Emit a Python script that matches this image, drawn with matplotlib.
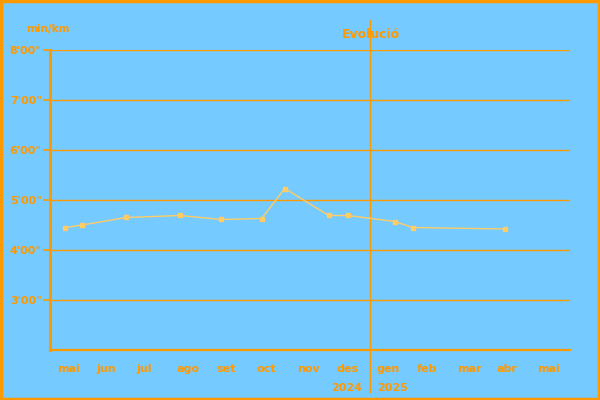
import matplotlib
matplotlib.use("Agg")
import matplotlib.pyplot as plt
import matplotlib.transforms as mtransforms
from matplotlib.patches import Rectangle
import calendar

# ritme mitjà (min/km) per data de cursa
dates = ["2024-05-13", "2024-05-26", "2024-06-28", "2024-08-09", "2024-09-09",
         "2024-10-10", "2024-10-28", "2024-11-30", "2024-12-15", "2025-01-20",
         "2025-02-03", "2025-04-12"]
pace = [4.45, 4.50, 4.65, 4.69, 4.61, 4.63, 5.23, 4.69, 4.69, 4.57, 4.45, 4.42]

month_labels = ["mai", "jun", "jul", "ago", "set", "oct", "nov", "des",
                "gen", "feb", "mar", "abr", "mai"]
y_ticks = [3, 4, 5, 6, 7, 8]

bg = "#75caff"
orange = "#ff9900"
line_col = "#ffcc66"


# cada mes ocupa la mateixa amplada a l'eix (maig 2024 = 0)
def month_pos(s):
    y, m, d = [int(p) for p in s.split("-")]
    idx = (y - 2024) * 12 + (m - 5)
    return idx + (d - 1) / calendar.monthrange(y, m)[1]


fig = plt.figure(figsize=(6, 4), dpi=100, facecolor=bg)
ax = fig.add_axes([50 / 600, 50 / 400, 520 / 600, 300 / 400])
ax.set_facecolor(bg)

x = [month_pos(d) for d in dates]
ax.plot(x, pace, color=line_col, lw=1, marker="s", ms=3.5, mec=line_col, mfc=line_col, zorder=3)

ax.set_xlim(0, len(month_labels))
ax.set_ylim(2, 8)

for sp in ["top", "right"]:
    ax.spines[sp].set_visible(False)
ax.spines["left"].set_color(orange)
ax.spines["left"].set_linewidth(2.2)
ax.spines["bottom"].set_color(orange)
ax.spines["bottom"].set_linewidth(1.6)

for v in y_ticks:
    ax.axhline(v, color=orange, lw=1.0, zorder=1)
ax.set_yticks(y_ticks)
ax.set_yticklabels(["%d'00\"" % v for v in y_ticks], fontsize=8, fontweight="bold", color=orange)
ax.tick_params(axis="y", length=5, width=1.2, color=orange, pad=1)

ax.set_xticks([])
tr = mtransforms.blended_transform_factory(ax.transData, ax.transAxes)
for i, lab in enumerate(month_labels):
    ax.text(i + 0.17, -0.063, lab, transform=tr, ha="left", va="center",
            fontsize=8, fontweight="bold", color=orange)

# separador d'any
xsep = month_pos("2025-01-01")
ax.plot([xsep, xsep], [-0.14, 1.1], color=orange, lw=1.0, transform=tr, clip_on=False)
ax.text(xsep - 0.2, -0.127, "2024", transform=tr, ha="right", va="center",
        fontsize=8, fontweight="bold", color=orange)
ax.text(xsep + 0.17, -0.127, "2025", transform=tr, ha="left", va="center",
        fontsize=8, fontweight="bold", color=orange)

fig.text(371 / 600, 1 - 34 / 400, "Evolució", ha="center", va="center",
         fontsize=9, fontweight="bold", color=orange)
fig.text(48 / 600, 1 - 29 / 400, "min/km", ha="center", va="center",
         fontsize=7.5, fontweight="bold", color=orange)

fig.patches.append(Rectangle((0.002, 0.003), 0.996, 0.994, transform=fig.transFigure,
                             fill=False, ec=orange, lw=2.5))

fig.savefig("out.png", dpi=100, facecolor=bg)
